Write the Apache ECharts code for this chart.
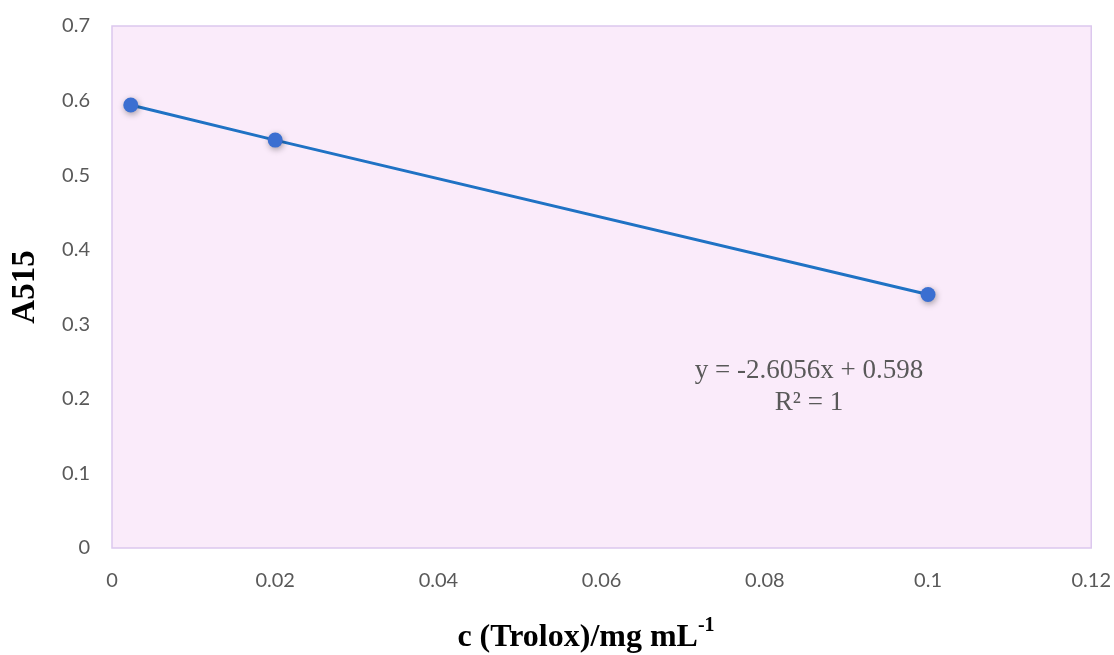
<!DOCTYPE html>
<html>
<head>
<meta charset="utf-8">
<script src="https://cdn.jsdelivr.net/npm/echarts@6/dist/echarts.min.js"></script>
<style>html,body{margin:0;padding:0;background:#fff;}#c{width:1114px;height:655px;}</style>
</head>
<body>
<div id="c"></div>
<script>
var concentrations = [0.0023, 0.02, 0.1];
var absorbance = [0.594, 0.547, 0.340];
var xTicks = [0, 0.02, 0.04, 0.06, 0.08, 0.1, 0.12];
var yTicks = [0, 0.1, 0.2, 0.3, 0.4, 0.5, 0.6, 0.7];
var equationText = 'y = -2.6056x + 0.598';
var r2Text = 'R² = 1';
var xTitle = 'c (Trolox)/mg mL';
var xTitleSup = '-1';
var yTitle = 'A515';

var chart = echarts.init(document.getElementById('c'));
var points = concentrations.map(function (x, i) { return [x, absorbance[i]]; });
function fmt(v) { return String(parseFloat(v.toFixed(4))); }
var grey = '#595959';
var serif = '"Liberation Serif", "Times New Roman", serif';
chart.setOption({
  animation: false,
  grid: {
    left: 112, right: 22, top: 26, bottom: 107,
    show: true, backgroundColor: '#faebfa', borderColor: '#dcc8ee', borderWidth: 1.5
  },
  xAxis: {
    type: 'value', min: xTicks[0], max: xTicks[xTicks.length - 1], interval: 0.02,
    axisLine: { show: false }, axisTick: { show: false }, splitLine: { show: false },
    axisLabel: { color: grey, fontSize: 20, fontFamily: 'Lato, "Open Sans", sans-serif', margin: 23, formatter: fmt }
  },
  yAxis: {
    type: 'value', min: yTicks[0], max: yTicks[yTicks.length - 1], interval: 0.1,
    axisLine: { show: false }, axisTick: { show: false }, splitLine: { show: false },
    axisLabel: { color: grey, fontSize: 20, fontFamily: 'Lato, "Open Sans", sans-serif', margin: 22, formatter: fmt },
    name: yTitle, nameLocation: 'middle', nameGap: 70, nameRotate: 90,
    nameTextStyle: { fontFamily: serif, fontWeight: 'bold', fontSize: 33, color: '#000' }
  },
  graphic: [
    { type: 'text', x: 809, y: 355, style: { text: equationText + '\n' + r2Text, align: 'center', fill: grey, font: '27px ' + serif, lineHeight: 32 } },
    { type: 'text', x: 586, y: 616, style: {
        text: '{b|' + xTitle + '}{s|' + xTitleSup + '}', align: 'center',
        rich: {
          b: { fontFamily: serif, fontWeight: 'bold', fontSize: 32, fill: '#000', verticalAlign: 'bottom', lineHeight: 38 },
          s: { fontFamily: serif, fontWeight: 'bold', fontSize: 20, fill: '#000', verticalAlign: 'top', lineHeight: 38, padding: [0, 0, 16, 0] }
        }
    } }
  ],
  series: [{
    type: 'line', data: points, symbol: 'circle', symbolSize: 15,
    lineStyle: { color: '#1f72c4', width: 3 },
    itemStyle: { color: '#3b6fd1', shadowColor: 'rgba(0,0,0,0.35)', shadowBlur: 6, shadowOffsetX: 1, shadowOffsetY: 2 }
  }]
});
</script>
</body>
</html>
